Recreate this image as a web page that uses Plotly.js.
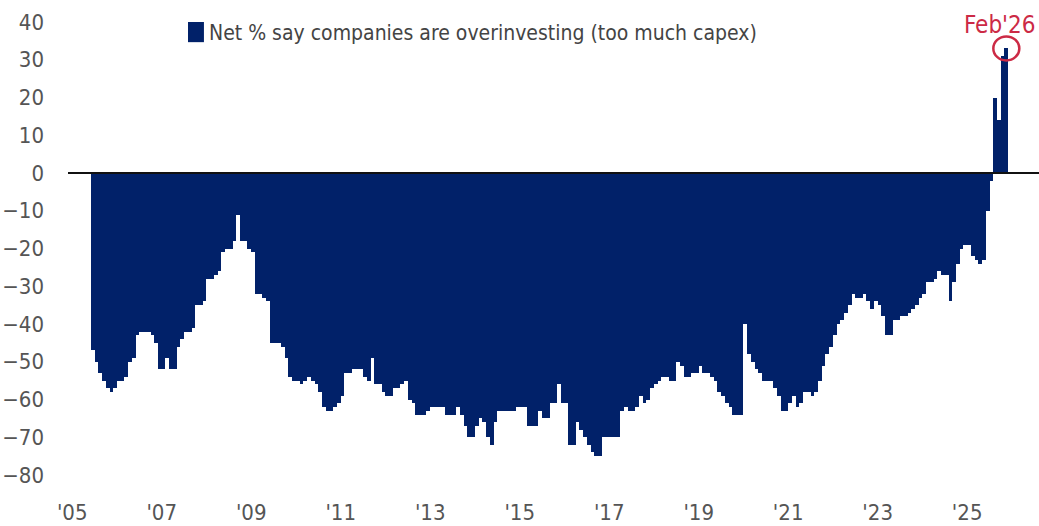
<!DOCTYPE html>
<html>
<head>
<meta charset="utf-8">
<script src="https://cdn.plot.ly/plotly-3.0.1.min.js"></script>
<style>
  html, body { margin: 0; padding: 0; background: #ffffff; }
  #chart { width: 1039px; height: 526px; }
</style>
</head>
<body>
<div id="chart"></div>
<script>
// Series: net % of fund managers saying companies are overinvesting (too much capex), monthly
const startYear = 2005;
const startMonth = 9; // first bar: Sep 2005
const netOverinvesting = [
  -47, -50, -53, -55,                                          // 2005 (Sep-Dec)
  -57, -58, -57, -55, -55, -54, -50, -49, -43, -42, -42, -42,  // 2006
  -43, -45, -52, -52, -49, -52, -52, -46, -44, -42, -42, -41,  // 2007
  -35, -35, -34, -28, -28, -27, -26, -21, -20, -20, -18, -11,  // 2008
  -18, -18, -20, -21, -32, -32, -33, -34, -45, -45, -45, -46,  // 2009
  -49, -54, -55, -55, -56, -55, -54, -55, -56, -58, -62, -63,  // 2010
  -63, -62, -61, -59, -53, -53, -52, -52, -52, -54, -55, -49,  // 2011
  -56, -56, -58, -59, -59, -57, -57, -56, -55, -60, -61, -64,  // 2012
  -64, -64, -63, -62, -62, -62, -62, -64, -64, -64, -62, -64,  // 2013
  -67, -70, -70, -67, -65, -66, -70, -72, -66, -63, -63, -63,  // 2014
  -63, -63, -62, -62, -62, -67, -67, -67, -63, -65, -65, -61,  // 2015
  -61, -56, -61, -61, -72, -72, -66, -68, -70, -72, -74, -75,  // 2016
  -75, -70, -70, -70, -70, -70, -63, -62, -63, -63, -62, -59,  // 2017
  -61, -60, -57, -56, -55, -54, -54, -55, -55, -50, -51, -54,  // 2018
  -54, -53, -53, -51, -53, -53, -54, -55, -58, -59, -61, -62,  // 2019
  -64, -64, -64, -40, -48, -50, -52, -53, -55, -55, -55, -57,  // 2020
  -59, -63, -63, -61, -59, -62, -61, -58, -58, -59, -58, -55,  // 2021
  -51, -48, -46, -43, -40, -39, -37, -35, -32, -33, -33, -32,  // 2022
  -34, -36, -34, -35, -38, -43, -43, -39, -39, -38, -38, -37,  // 2023
  -36, -35, -33, -32, -29, -29, -28, -26, -27, -27, -34, -29,  // 2024
  -24, -20, -19, -19, -22, -23, -24, -23, -10, -2, 20, 14,     // 2025
  31, 33                                                       // 2026 (Jan-Feb)
];
const xTickYears = [2005, 2007, 2009, 2011, 2013, 2015, 2017, 2019, 2021, 2023, 2025];
const xTickLabels = ["'05", "'07", "'09", "'11", "'13", "'15", "'17", "'19", "'21", "'23", "'25"];
const yTickValues = [-80, -70, -60, -50, -40, -30, -20, -10, 0, 10, 20, 30, 40];
const seriesName = "Net % say companies are overinvesting (too much capex)";
const lastLabel = "Feb'26";

// month positions (decimal years, bar centred on its month)
const xMonths = netOverinvesting.map((_, i) => startYear + (startMonth - 1 + i + 0.5) / 12);
const lastX = xMonths[xMonths.length - 1];
const lastY = netOverinvesting[netOverinvesting.length - 1];
// year labels sit just right of the January they mark (label starts at the tick)
const xTickPos = xTickYears.map(y => y + 0.25);

const NAVY = '#012169';
const RED = '#cc2a45';
const FONT = '"DejaVu Sans Condensed", "Liberation Sans Narrow", "Arial Narrow", sans-serif';

const trace = {
  type: 'bar',
  x: xMonths,
  y: netOverinvesting,
  width: 1 / 12,
  marker: { color: NAVY, line: { width: 0 } },
  name: seriesName,
  showlegend: false,
  hoverinfo: 'x+y'
};

const layout = {
  width: 1039,
  height: 526,
  margin: { l: 68, r: 0, t: 10, b: 36, pad: 0 },
  paper_bgcolor: '#ffffff',
  plot_bgcolor: '#ffffff',
  bargap: 0,
  showlegend: false,
  font: { family: FONT, color: '#555555' },
  xaxis: {
    range: [2005.156, 2026.855],
    tickmode: 'array',
    tickvals: xTickPos,
    ticktext: xTickLabels,
    showgrid: false,
    zeroline: false,
    showline: false,
    ticks: '',
    ticklabelstandoff: 7,
    tickfont: { family: FONT, size: 22, color: '#555555' },
    fixedrange: true
  },
  yaxis: {
    range: [-83.97, 43.18],
    tickmode: 'array',
    tickvals: yTickValues,
    showgrid: false,
    zeroline: false,
    showline: false,
    ticks: '',
    ticklabelstandoff: 23,
    tickfont: { family: FONT, size: 22, color: '#555555' },
    fixedrange: true
  },
  shapes: [
    // zero line
    { type: 'line', xref: 'paper', yref: 'y', x0: 0, x1: 1, y0: 0, y1: 0,
      line: { color: '#111111', width: 2 }, layer: 'above' },
    // legend swatch
    { type: 'rect', xref: 'paper', yref: 'paper', x0: 0.1236, x1: 0.1400, y0: 0.933, y1: 0.975,
      fillcolor: NAVY, line: { width: 0 } },
    // circle around latest reading
    { type: 'circle', xref: 'x', yref: 'y',
      xsizemode: 'pixel', xanchor: lastX, x0: -13, x1: 13,
      ysizemode: 'pixel', yanchor: lastY, y0: -12, y1: 12,
      line: { color: RED, width: 2.5 }, fillcolor: 'rgba(0,0,0,0)', layer: 'above' }
  ],
  annotations: [
    { xref: 'paper', yref: 'paper', x: 0.1431, y: 0.952, xanchor: 'left', yanchor: 'middle',
      text: seriesName, showarrow: false,
      font: { family: FONT, size: 21, color: '#444444' } },
    { xref: 'x', yref: 'y', x: lastX, y: lastY, xshift: -6, yshift: 23,
      xanchor: 'center', yanchor: 'middle',
      text: lastLabel, showarrow: false,
      font: { family: FONT, size: 24, color: RED } }
  ]
};

Plotly.newPlot('chart', [trace], layout, { staticPlot: true, displayModeBar: false });
</script>
</body>
</html>
